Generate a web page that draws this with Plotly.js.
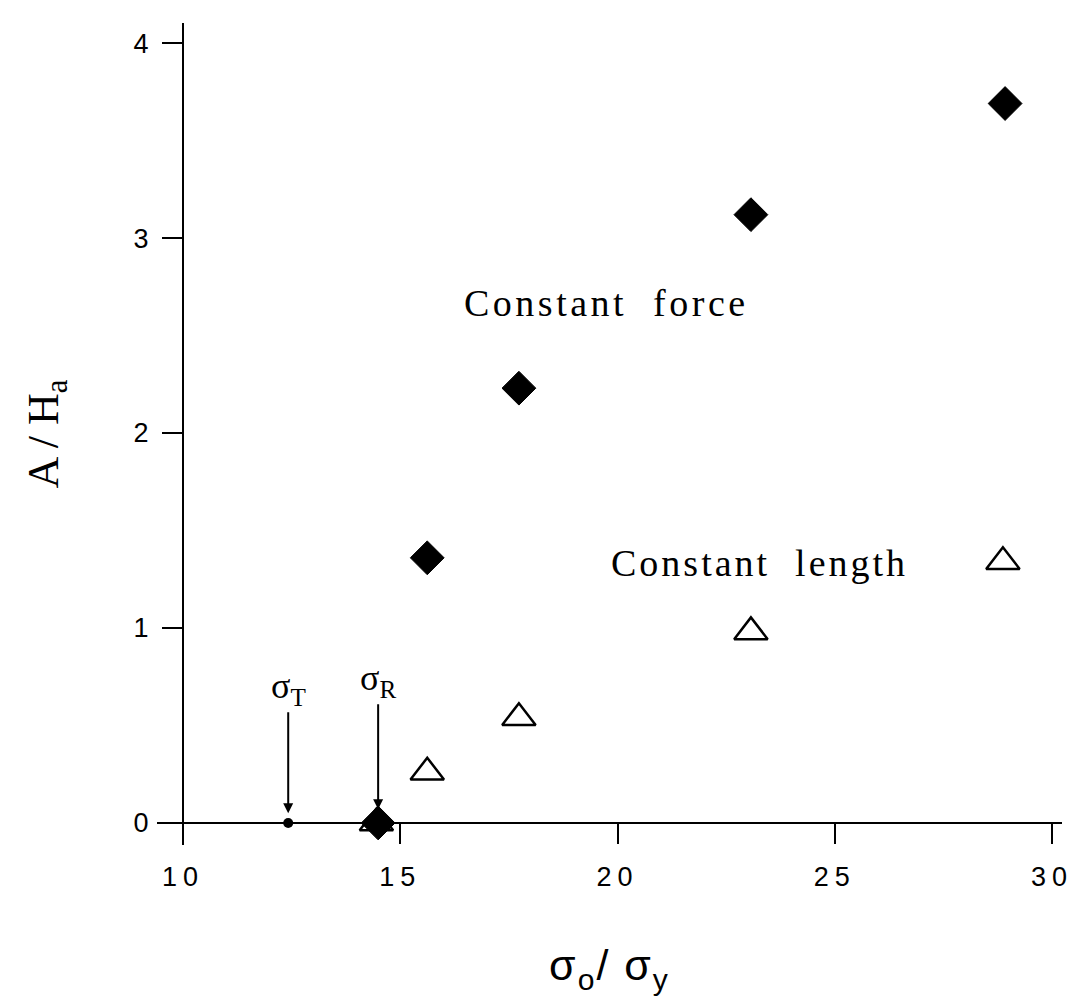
<!DOCTYPE html>
<html>
<head>
<meta charset="utf-8">
<script src="https://cdn.plot.ly/plotly-3.0.1.min.js"></script>
<style>html,body{margin:0;padding:0;background:#fff;}#chart{width:1076px;height:1006px;}</style>
</head>
<body>
<div id="chart"></div>
<script>
// Data
const forceX = [14.49, 15.62, 17.73, 23.07, 28.92];
const forceY = [0.0, 1.36, 2.23, 3.12, 3.69];
const lengthX = [14.45, 15.62, 17.73, 23.07, 28.87];
const lengthY = [0.0, 0.26, 0.54, 0.98, 1.34];
const sigmaTX = [12.42];
const sigmaTY = [0.0];
const sigmaRX = 14.49;
const xTicks = [10, 15, 20, 25, 30];
const yTicks = [0, 1, 2, 3, 4];

const traces = [
  {x: lengthX, y: lengthY, mode: 'markers', type: 'scatter', name: 'Constant length',
   marker: {symbol: 'triangle-up-open', size: 29, color: '#000', line: {color: '#000', width: 2.5}}},
  {x: forceX, y: forceY, mode: 'markers', type: 'scatter', name: 'Constant force',
   marker: {symbol: 'diamond', size: 26, color: '#000', line: {color: '#000', width: 1}}},
  {x: sigmaTX, y: sigmaTY, mode: 'markers', type: 'scatter', name: 'sigma T',
   marker: {symbol: 'circle', size: 10, color: '#000'}}
];

const serif = 'Liberation Serif, Times New Roman, serif';
const sans = 'Liberation Sans, Arial, sans-serif';
const spaced = (t, px) => '<span style="letter-spacing:' + px + 'px">' + t + '</span>';

const layout = {
  width: 1076, height: 1006,
  margin: {l: 157, r: 14, t: 23, b: 161},
  paper_bgcolor: '#fff', plot_bgcolor: '#fff',
  showlegend: false,
  xaxis: {
    range: [9.4, 30.23], anchor: 'free', position: 0.0268,
    showline: true, linecolor: '#000', linewidth: 2,
    ticks: 'outside', ticklen: 20, tickwidth: 2, tickcolor: '#000',
    tickvals: xTicks, ticktext: xTicks.map(v => spaced(String(v), 6)),
    ticklabelstandoff: 10,
    showgrid: false, zeroline: false,
    tickfont: {family: sans, size: 27, color: '#000'},
    title: {text: spaced('σ<sub>o</sub>/ σ<sub>y</sub>', 2), font: {family: sans, size: 43, color: '#000'}, standoff: 58}
  },
  yaxis: {
    range: [-0.113, 4.103], anchor: 'free', position: 0.0287,
    showline: true, linecolor: '#000', linewidth: 2,
    ticks: 'outside', ticklen: 20, tickwidth: 2, tickcolor: '#000',
    tickvals: yTicks, ticktext: yTicks.map(String),
    ticklabelstandoff: 8,
    showgrid: false, zeroline: false,
    tickfont: {family: sans, size: 27, color: '#000'},
    title: {text: 'A / H<sub>a</sub>', font: {family: serif, size: 44, color: '#000'}, standoff: 60}
  },
  annotations: [
    {x: 19.74, y: 2.667, xref: 'x', yref: 'y', text: spaced('Constant\u00a0\u00a0force', 3.5), showarrow: false,
     font: {family: serif, size: 38, color: '#000'}},
    {x: 23.26, y: 1.333, xref: 'x', yref: 'y', text: spaced('Constant\u00a0\u00a0length', 3), showarrow: false,
     font: {family: serif, size: 38, color: '#000'}},
    {x: sigmaTX[0], y: 0.05, xref: 'x', yref: 'y', text: 'σ<sub>T</sub>', showarrow: true,
     ax: 0, ay: -125, arrowhead: 2, arrowsize: 1, arrowwidth: 2, arrowcolor: '#000',
     font: {family: serif, size: 36, color: '#000'}},
    {x: sigmaRX, y: 0.07, xref: 'x', yref: 'y', text: 'σ<sub>R</sub>', showarrow: true,
     ax: 0, ay: -129, arrowhead: 2, arrowsize: 1, arrowwidth: 2, arrowcolor: '#000',
     font: {family: serif, size: 36, color: '#000'}}
  ]
};

Plotly.newPlot('chart', traces, layout, {displayModeBar: false, staticPlot: true});
</script>
</body>
</html>
